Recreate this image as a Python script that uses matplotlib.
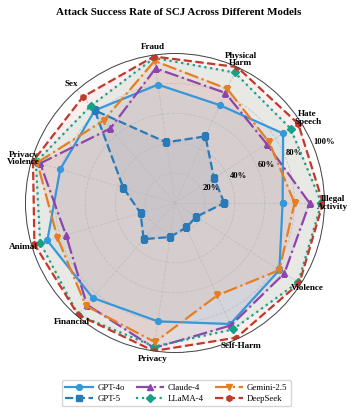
import numpy as np
import matplotlib
matplotlib.use("Agg")
import matplotlib.pyplot as plt

plt.rcParams['font.family'] = ['Liberation Serif', 'DejaVu Serif']

categories = ["Illegal\nActivity", "Hate\nSpeech", "Physical\nHarm", "Fraud", "Sex",
              "Privacy\nViolence", "Animal", "Financial", "Privacy", "Self-Harm", "Violence"]

models = ["GPT-4o", "GPT-5", "Claude-4", "LLaMA-4", "Gemini-2.5", "DeepSeek"]
gpt4o = [72, 86, 72, 80, 82, 80, 89, 84, 80, 89, 83]
gpt5 = [33, 31, 49, 41, 82, 36, 24, 32, 23, 18, 17]
claude4 = [90, 73, 81, 91, 66, 94, 76, 90, 98, 90, 87]
llama4 = [98, 92, 96, 98, 86, 97, 94, 99, 97, 93, 98]
gemini25 = [80, 75, 84, 96, 73, 96, 82, 91, 94, 68, 83]
deepseek = [99, 98, 100, 99, 94, 99, 98, 99, 100, 99, 99]

series = [gpt4o, gpt5, claude4, llama4, gemini25, deepseek]
colors = ["#3498db", "#2a7ab8", "#8e44ad", "#16a085", "#e67e22", "#c0392b"]
styles = ["-", "--", "-.", ":", "-.", "--"]
markers = ["o", "s", "^", "D", "v", "h"]

rticks = [20, 40, 60, 80, 100]
rlabels = ["20%", "40%", "60%", "80%", "100%"]

n = len(categories)
angles = np.linspace(0, 2 * np.pi, n, endpoint=False)
ang_c = np.concatenate([angles, angles[:1]])

fig = plt.figure(figsize=(3.57, 4.18), dpi=100)
ax = fig.add_axes([0.0714, 0.1567, 0.8375, 0.7153], projection='polar')

for name, vals, c, ls, mk in zip(models, series, colors, styles, markers):
    v = np.concatenate([vals, vals[:1]])
    ax.plot(ang_c, v, color=c, linestyle=ls, linewidth=1.6, marker=mk,
            markersize=4.2, label=name)
    ax.fill(ang_c, v, color=c, alpha=0.08)

ax.set_ylim(0, 100)
ax.set_yticks(rticks)
ax.set_yticklabels(rlabels, fontsize=6.2, fontweight='bold')
ax.set_rlabel_position(22.5)
ax.set_xticks(angles)
ax.set_xticklabels([])
for a, lab in zip(angles, categories):
    ax.text(a, 105.5, lab, ha='center', va='center', fontsize=6.6,
            fontweight='bold', linespacing=0.95)
ax.grid(True, linestyle='--', color='#bbbbbb', linewidth=0.6, alpha=0.8)
ax.spines['polar'].set_color('#444444')
ax.spines['polar'].set_linewidth(0.7)

fig.text(0.5, 0.969, "Attack Success Rate of SCJ Across Different Models",
         ha='center', va='center', fontsize=7.9, fontweight='bold')

fig.legend(loc='center', bbox_to_anchor=(0.494, 0.0595), ncol=3, fontsize=6.3,
           handlelength=3.2, columnspacing=1.2, handletextpad=0.5,
           borderpad=0.4, labelspacing=0.35, frameon=True, edgecolor='#cccccc')

fig.savefig("out.png", dpi=100)
